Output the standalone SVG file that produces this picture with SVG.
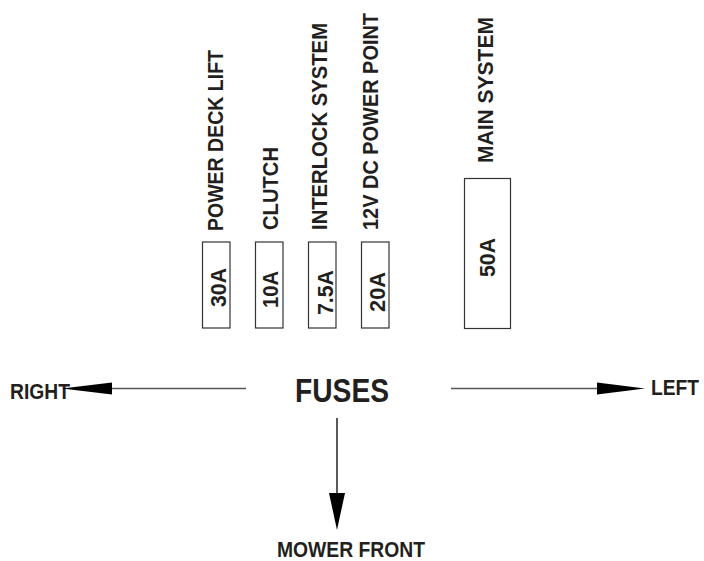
<svg xmlns="http://www.w3.org/2000/svg" width="704" height="561" viewBox="0 0 704 561">
<style>
.bg{fill:#fff}
.box{fill:#fff;stroke:#333;stroke-width:1.2}
.t{font-family:"Liberation Sans",Arial,sans-serif;font-weight:bold;fill:#231f20}
.s21{font-size:22px}
.s22{font-size:22px}
.s32{font-size:33px}
.ln{stroke:#555;stroke-width:1.5;fill:none}
.hd{fill:#000}
</style>
<rect class="bg" x="0" y="0" width="704" height="561"/>

<g id="fuse-power-deck-lift">
<rect class="box" x="202.5" y="242" width="27.5" height="86"/>
<text class="t s21" transform="translate(226,307) rotate(-90)" textLength="39" lengthAdjust="spacingAndGlyphs">30A</text>
<text class="t s21" transform="translate(223,231) rotate(-90)" textLength="181" lengthAdjust="spacingAndGlyphs">POWER DECK LIFT</text>
</g>

<g id="fuse-clutch">
<rect class="box" x="255.5" y="242" width="27.5" height="86"/>
<text class="t s21" transform="translate(277.5,308) rotate(-90)" textLength="37" lengthAdjust="spacingAndGlyphs">10A</text>
<text class="t s21" transform="translate(278,230) rotate(-90)" textLength="83" lengthAdjust="spacingAndGlyphs">CLUTCH</text>
</g>

<g id="fuse-interlock">
<rect class="box" x="308.5" y="242" width="27.5" height="86"/>
<text class="t s21" transform="translate(332.5,315) rotate(-90)" textLength="45" lengthAdjust="spacingAndGlyphs">7.5A</text>
<text class="t s21" transform="translate(326.5,230) rotate(-90)" textLength="207" lengthAdjust="spacingAndGlyphs">INTERLOCK SYSTEM</text>
</g>

<g id="fuse-12v">
<rect class="box" x="361.5" y="242" width="27.5" height="86"/>
<text class="t s21" transform="translate(385,312) rotate(-90)" textLength="40" lengthAdjust="spacingAndGlyphs">20A</text>
<text class="t s21" transform="translate(378,230) rotate(-90)" textLength="217" lengthAdjust="spacingAndGlyphs">12V DC POWER POINT</text>
</g>

<g id="fuse-main">
<rect class="box" x="464.5" y="178.5" width="46" height="150"/>
<text class="t s21" transform="translate(495,277) rotate(-90)" textLength="39" lengthAdjust="spacingAndGlyphs">50A</text>
<text class="t s21" transform="translate(492.5,163) rotate(-90)" textLength="146" lengthAdjust="spacingAndGlyphs">MAIN SYSTEM</text>
</g>

<g id="fuses-title">
<text class="t s32" x="295" y="401.5" textLength="94" lengthAdjust="spacingAndGlyphs">FUSES</text>
</g>

<g id="label-right">
<text class="t s22" x="10" y="399.3" textLength="60" lengthAdjust="spacingAndGlyphs">RIGHT</text>
</g>

<g id="label-left">
<text class="t s22" x="651" y="395" textLength="48" lengthAdjust="spacingAndGlyphs">LEFT</text>
</g>

<g id="label-mower-front">
<text class="t s22" x="277" y="556.7" textLength="148" lengthAdjust="spacingAndGlyphs">MOWER FRONT</text>
</g>

<g id="connectors">
<line class="ln" x1="246" y1="388.5" x2="110" y2="388.5"/>
<polygon class="hd" points="62,388.5 112,382.5 112,394.5"/>
<line class="ln" x1="451" y1="388.5" x2="600" y2="388.5"/>
<polygon class="hd" points="645,388.5 597,382.5 597,394.5"/>
<line x1="337" y1="418" x2="337" y2="495" stroke="#000" stroke-width="1.3"/>
<polygon class="hd" points="329,493 345,493 337,530"/>
</g>
</svg>
